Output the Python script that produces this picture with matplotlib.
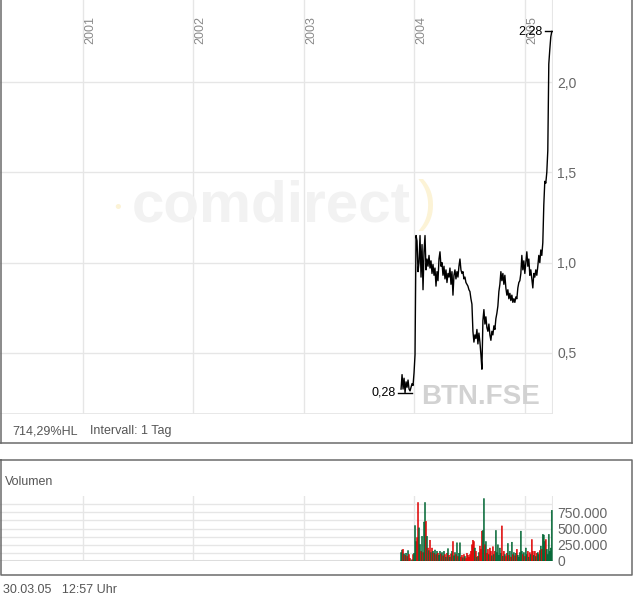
import numpy as np
import pandas as pd
import matplotlib
matplotlib.use("Agg")
import matplotlib.pyplot as plt
import matplotlib.dates as mdates
from matplotlib.lines import Line2D
from matplotlib.ticker import FuncFormatter, FixedLocator
import matplotlib.transforms as mtransforms

plt.rcParams['font.family'] = ['Liberation Sans', 'DejaVu Sans']

W, H = 634, 597

# close prices (EUR), Nov 2003 .. 30.03.2005
prices = [
    0.30, 0.38, 0.30, 0.36, 0.28, 0.34, 0.31, 0.35, 0.30, 0.29,
    0.31, 0.33, 0.32, 0.39, 0.49, 1.15, 1.12, 0.95, 1.00, 1.15,
    0.92, 1.10, 0.85, 1.06, 1.15, 0.96, 1.02, 0.98, 1.04, 0.97,
    1.01, 0.94, 0.99, 0.93, 0.97, 0.87, 0.95, 0.90, 1.02, 1.06,
    0.98, 1.00, 0.93, 0.98, 0.91, 0.96, 0.89, 0.94, 0.92, 0.97,
    0.88, 0.95, 0.82, 0.93, 0.96, 0.91, 0.95, 0.92, 0.98, 1.02,
    0.96, 0.94, 0.95, 0.91, 0.92, 0.89, 0.88, 0.87, 0.85, 0.84,
    0.80, 0.77, 0.62, 0.56, 0.60, 0.58, 0.63, 0.55, 0.61, 0.56,
    0.49, 0.41, 0.68, 0.74, 0.66, 0.70, 0.64, 0.62, 0.66, 0.60,
    0.57, 0.62, 0.60, 0.65, 0.63, 0.69, 0.72, 0.76, 0.84, 0.88,
    0.95, 0.90, 0.94, 0.88, 0.93, 0.86, 0.82, 0.85, 0.80, 0.83,
    0.79, 0.82, 0.78, 0.80, 0.78, 0.81, 0.80, 0.86, 0.89, 0.90,
    0.94, 1.04, 0.96, 1.01, 0.94, 1.00, 1.06, 0.98, 1.02, 0.93,
    0.96, 0.91, 0.86, 0.94, 0.92, 0.96, 0.93, 0.98, 1.04, 1.00,
    1.07, 1.04, 1.11, 1.32, 1.45, 1.44, 1.50, 1.62, 2.10, 2.18,
    2.25, 2.28,
]

# volume in thousand shares
volume_k = [
    130, 170, 180, 110, 90, 120, 70, 160, 100, 40,
    0, 20, 100, 120, 545, 300, 360, 900, 510, 255,
    150, 380, 130, 600, 900, 610, 380, 200, 160, 320,
    130, 200, 150, 120, 170, 100, 150, 120, 90, 150,
    110, 130, 80, 150, 100, 60, 120, 190, 90, 60,
    110, 150, 300, 80, 130, 100, 280, 70, 120, 280,
    60, 90, 50, 100, 70, 40, 120, 90, 60, 100,
    150, 250, 320, 300, 200, 150, 60, 75, 130, 230,
    180, 460, 470, 960, 250, 300, 120, 180, 100, 200,
    150, 80, 220, 100, 150, 470, 130, 250, 90, 200,
    120, 540, 75, 150, 100, 70, 120, 270, 90, 150,
    60, 290, 100, 130, 80, 120, 180, 90, 60, 130,
    460, 150, 100, 130, 70, 200, 100, 150, 60, 130,
    100, 330, 150, 90, 150, 70, 120, 130, 100, 160,
    230, 180, 410, 400, 300, 330, 180, 100, 410, 150,
    200, 780,
]

years = [2001, 2002, 2003, 2004, 2005]
price_ticks = [0.5, 1.0, 1.5, 2.0]
vol_ticks = [0, 250000, 500000, 750000]
vol_grid = [125000, 375000, 625000, 875000]

dates = mdates.date2num(pd.date_range("2003-11-18", "2005-03-30", periods=len(prices)).to_pydatetime())
prices = np.array(prices)
volume = np.array(volume_k) * 1000.0
x0 = mdates.date2num(pd.Timestamp("2000-04-02").to_pydatetime())
x1 = mdates.date2num(pd.Timestamp("2005-04-03").to_pydatetime())
year_x = [mdates.date2num(pd.Timestamp(f"{y}-01-01").to_pydatetime()) for y in years]

grid_c = "#e6e6e6"
txt_c = "#666666"
border_c = "#6b6b6b"


def fx(x):
    return x / W


def fy(y):
    return 1 - y / H


fig = plt.figure(figsize=(W / 100, H / 100), dpi=100)

# ---- price panel
ax = fig.add_axes([fx(0), fy(414), fx(553), 414 / H])
ax.plot(dates, prices, color="black", lw=1.0, zorder=3)
ax.set_xlim(x0, x1)
ax.set_ylim(0.162, 2.454)
for s in ax.spines.values():
    s.set_visible(False)
ax.axhline(0.162, color=grid_c, lw=2, zorder=1)
ax.axvline(x1, color=grid_c, lw=1.5, zorder=1)

ax.set_xticks(year_x)
ax.set_xticklabels([])
ax.tick_params(axis="x", length=0)
ax.yaxis.tick_right()
ax.set_yticks(price_ticks)
ax.yaxis.set_major_formatter(FuncFormatter(lambda v, p: f"{v:.1f}".replace(".", ",")))
ax.tick_params(axis="y", length=0, pad=3, labelsize=10, labelcolor=txt_c)
ax.grid(True, color=grid_c, lw=1.0, zorder=0)
ax.set_axisbelow(True)

off = mtransforms.offset_copy(ax.get_xaxis_transform(), fig=fig, x=1, y=0, units="dots")
for y, d in zip(years, year_x):
    ax.text(d, 1 - 16 / 414, str(y), rotation=90, ha="left", va="top",
            fontsize=9, color="#8a8a8a", transform=off)

# watermarks
ax.text(0.490, 0.50, "comdirect", transform=ax.transAxes, ha="center", va="center",
        fontsize=42, fontweight="bold", color="#f2f2f2", zorder=1)
ax.text(0.213, 0.497, "•", transform=ax.transAxes, ha="center", va="center",
        fontsize=14, color="#fcf3d6", zorder=1)
ax.text(0.772, 0.505, ")", transform=ax.transAxes, ha="center", va="center",
        fontsize=40, color="#fcf3d6", zorder=1)
ax.text(421 / 553, 10 / 414, "BTN.FSE", transform=ax.transAxes, ha="left", va="baseline",
        fontsize=20, fontweight="bold", color="#d2d2d2", zorder=1)

# min / max markers
i_min = int(np.argmin(prices))
i_max = int(np.argmax(prices))
half = 22
for i in (i_min, i_max):
    ax.plot([dates[i] - half, dates[i] + half], [prices[i], prices[i]], color="black", lw=1.0, zorder=4)
    ax.annotate(f"{prices[i]:.2f}".replace(".", ","), xy=(dates[i] - half, prices[i]),
                xytext=(-2, 0), textcoords="offset points", ha="right", va="center",
                fontsize=9, color="black", zorder=5)

# ---- volume panel
vx = fig.add_axes([fx(0), fy(561), fx(553), 65 / H])
up = np.r_[True, np.diff(prices) >= 0]
colors = np.where(up, "#006633", "#dd0000")
vx.bar(dates, volume, width=4.0, color=colors, edgecolor=colors, linewidth=0.3,
       snap=False, zorder=3)
vx.set_xlim(x0, x1)
vx.set_ylim(0, 1000000)
for s in vx.spines.values():
    s.set_visible(False)
vx.set_xticks(year_x)
vx.set_xticklabels([])
vx.tick_params(axis="x", length=0)
vx.yaxis.tick_right()
vx.set_yticks(vol_ticks)
vx.yaxis.set_minor_locator(FixedLocator(vol_grid))
vx.yaxis.set_major_formatter(FuncFormatter(lambda v, p: f"{int(v):,}".replace(",", ".")))
vx.tick_params(axis="y", which="both", length=0, pad=3, labelsize=10, labelcolor=txt_c)
vx.grid(True, which="both", color=grid_c, lw=1.0, zorder=0)
vx.set_axisbelow(True)
vx.axhline(0, color="#dddddd", lw=2.2, zorder=2)
vx.axvline(x1, color=grid_c, lw=1.5, zorder=1)

# ---- panel frames and captions
lw = 1.1
fig.add_artist(Line2D([fx(0.7), fx(0.7)], [fy(-2), fy(443)], color=border_c, lw=lw))
fig.add_artist(Line2D([fx(632), fx(632)], [fy(-2), fy(443)], color=border_c, lw=lw))
fig.add_artist(Line2D([fx(0), fx(632)], [fy(443), fy(443)], color=border_c, lw=lw))
fig.add_artist(Line2D([fx(0.7), fx(632), fx(632), fx(0.7), fx(0.7)],
                      [fy(460), fy(460), fy(575), fy(575), fy(460)], color=border_c, lw=lw))

fig.text(fx(12), fy(431), "714,29%HL", ha="left", va="center", fontsize=9, color="#555555")
fig.text(fx(90), fy(431), "Intervall: 1 Tag", ha="left", va="center", fontsize=9, color="#555555")
fig.text(fx(5), fy(482), "Volumen", ha="left", va="center", fontsize=9, color="#555555")
fig.text(fx(3), fy(590), "30.03.05   12:57 Uhr", ha="left", va="center", fontsize=9, color="#555555")

fig.savefig("out.png", dpi=100)
